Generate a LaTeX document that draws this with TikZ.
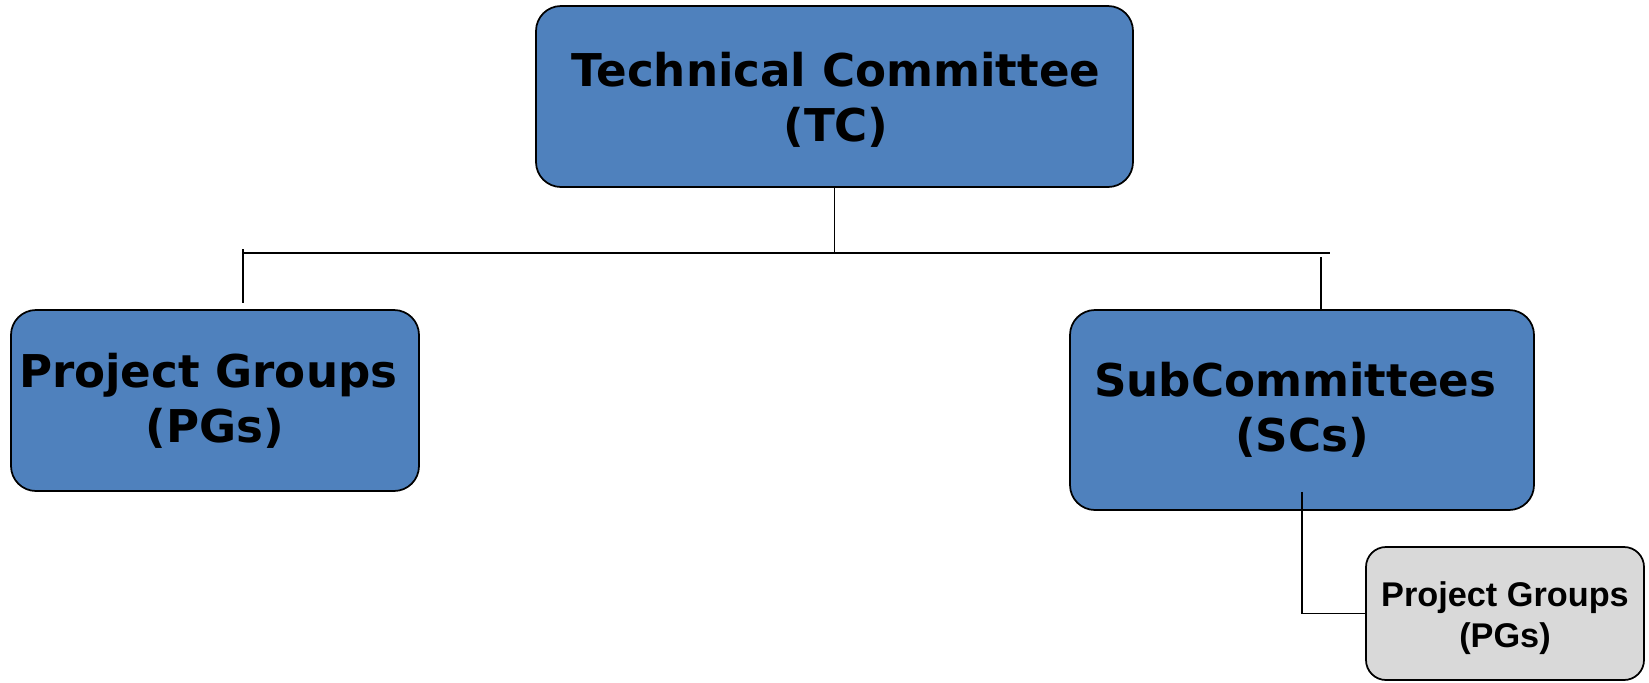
\documentclass[tikz,border=0pt]{standalone}
\usepackage{fontspec}
\usepackage{xcolor}
\usepackage{tikz}
\newfontfamily\verd{DejaVu Sans}
\newfontfamily\arialb{Liberation Sans}
\definecolor{boxblue}{HTML}{4F81BD}
\definecolor{boxgray}{HTML}{D9D9D9}

\begin{document}
\begin{tikzpicture}[line width=0.035cm,
  bigbox/.style={draw, fill=boxblue, rounded corners=0.5cm, align=center, inner sep=0pt,
    font=\verd\bfseries\fontsize{25.7}{31.3}\selectfont},
  smallbox/.style={draw, fill=boxgray, rounded corners=0.4cm, align=center, inner sep=0pt,
    font=\arialb\bfseries\fontsize{19.5}{23.3}\selectfont}]
\useasboundingbox (0,0) rectangle (32.98,-13.64);
% boxes
\node[bigbox, minimum width=11.94cm, minimum height=3.62cm] (tc) at (16.69,-1.93) {};
\node[font=\verd\bfseries\fontsize{25.7}{31.3}\selectfont, align=center] (tctext) at (16.72,-2.0) {Technical Committee\\(TC)};
\node[bigbox, minimum width=8.16cm, minimum height=3.62cm] (pg) at (4.30,-8.01) {Project Groups\hspace*{.3em}\\(PGs)};
\node[bigbox, minimum width=9.28cm, minimum height=4.0cm] (sc) at (26.04,-8.20) {SubCommittees\hspace*{.3em}\\(SCs)};
\node[smallbox, minimum width=5.56cm, minimum height=2.66cm] (pgsub) at (30.10,-12.27) {};
\node[font=\arialb\bfseries\fontsize{19.5}{23.3}\selectfont, align=center] (pgsubtext) at (30.10,-12.36) {Project Groups\\(PGs)};
% lines
\coordinate (busL) at (4.86,-5.06);
\coordinate (busR) at (26.6,-5.06);
\coordinate (busSC) at (26.42,-5.14);
\draw (busL) -- (busR);
\draw (tc.south) -- (tc.south |- busL);
\draw ([yshift=0.08cm]busL) -- ([yshift=0.12cm]busL |- pg.north);
\draw (busSC) -- (busSC |- sc.north);
\draw ([yshift=0.38cm]sc.south) |- (pgsub.west);
\end{tikzpicture}
\end{document}
